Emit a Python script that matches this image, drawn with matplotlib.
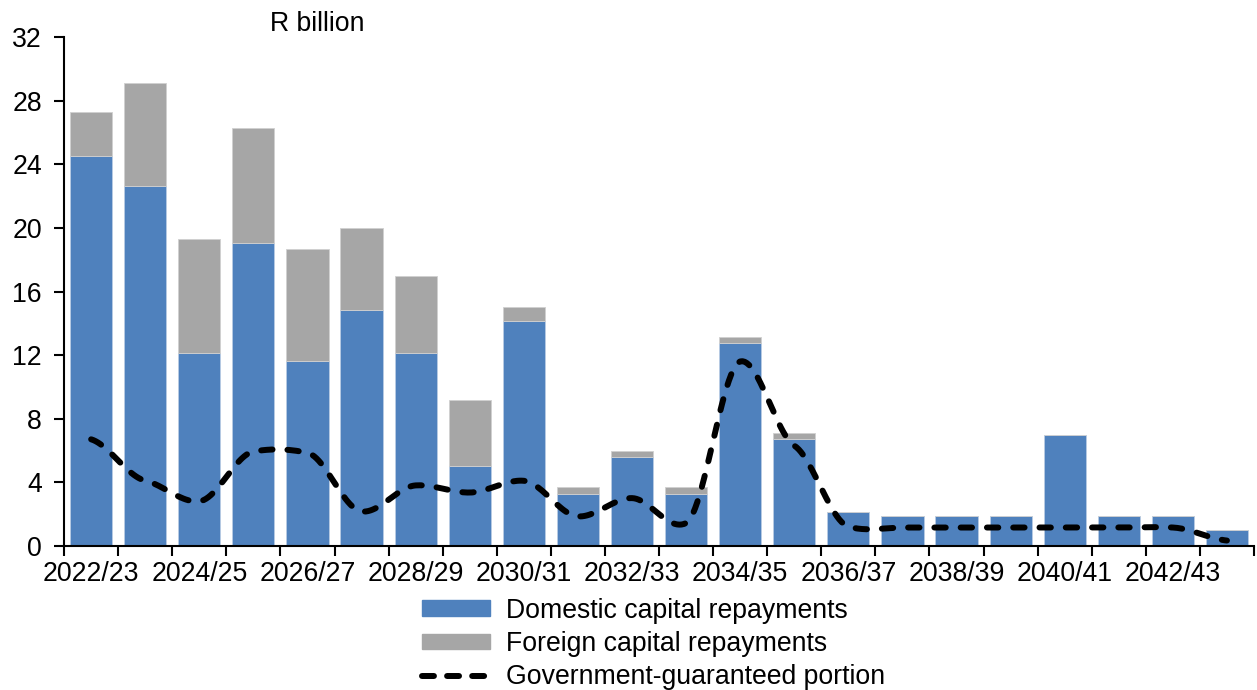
import numpy as np
import matplotlib
matplotlib.use('Agg')
from matplotlib import pyplot as plt
from matplotlib.lines import Line2D
from matplotlib.patches import Patch

# Data (R billion)
years = ['2022/23', '2023/24', '2024/25', '2025/26', '2026/27', '2027/28',
         '2028/29', '2029/30', '2030/31', '2031/32', '2032/33', '2033/34',
         '2034/35', '2035/36', '2036/37', '2037/38', '2038/39', '2039/40',
         '2040/41', '2041/42', '2042/43', '2043/44']
domestic = [24.55, 22.65, 12.14, 19.08, 11.65, 14.85, 12.14, 5.03, 14.15,
            3.27, 5.56, 3.27, 12.78, 6.71, 2.12, 1.89, 1.89, 1.89, 6.96,
            1.89, 1.89, 1.0]
foreign = [2.75, 6.5, 7.16, 7.22, 7.03, 5.13, 4.84, 4.15, 0.88, 0.4, 0.39,
           0.4, 0.37, 0.38, 0, 0, 0, 0, 0, 0, 0, 0]
guaranteed = [6.7, 4.1, 2.8, 5.93, 5.85, 2.16, 3.8, 3.35, 4.09, 1.85, 3.0,
              1.43, 11.6, 6.3, 1.21, 1.15, 1.15, 1.15, 1.15, 1.15, 1.15, 0.33]

blue = '#4F81BD'
grey = '#A6A6A6'

plt.rcParams['font.family'] = ['Liberation Sans', 'DejaVu Sans']
plt.rcParams['font.size'] = 19.2


def smooth(xs, ys, tension=0.4, n=24):
    # cardinal spline through the points (Excel "smoothed line" look)
    m = np.zeros_like(ys)
    m[1:-1] = tension * (ys[2:] - ys[:-2]) / 2
    m[0] = tension * (ys[1] - ys[0])
    m[-1] = tension * (ys[-1] - ys[-2])
    t = np.linspace(0, 1, n, endpoint=False)
    h00 = 2 * t ** 3 - 3 * t ** 2 + 1
    h10 = t ** 3 - 2 * t ** 2 + t
    h01 = -2 * t ** 3 + 3 * t ** 2
    h11 = t ** 3 - t ** 2
    ox, oy = [], []
    for i in range(len(xs) - 1):
        ox.extend(xs[i] + t * (xs[i + 1] - xs[i]))
        oy.extend(h00 * ys[i] + h10 * m[i] + h01 * ys[i + 1] + h11 * m[i + 1])
    ox.append(xs[-1])
    oy.append(ys[-1])
    return np.array(ox), np.array(oy)


fig = plt.figure(figsize=(12.57, 6.9), dpi=100)
ax = fig.add_axes([0.051, 0.209, 0.9466, 0.737])

x = np.arange(len(years))
ax.bar(x, domestic, width=0.78, color=blue, edgecolor='#B8CCE4', linewidth=0.6)
ax.bar(x, foreign, width=0.78, bottom=domestic, color=grey,
       edgecolor='#D0D0D0', linewidth=0.6)

sx, sy = smooth(x.astype(float), np.array(guaranteed, dtype=float))
ax.plot(sx, sy, color='black', lw=4.3, dashes=(1.9, 2.5),
        dash_capstyle='round', solid_capstyle='round')

ax.set_xlim(-0.5, len(years) - 0.5)
ax.set_ylim(0, 32)
ax.set_yticks(np.arange(0, 33, 4))
ax.set_xticks(x[::2])
ax.set_xticklabels(years[::2])
ax.set_xticks(np.arange(-0.5, len(years), 1), minor=True)
ax.tick_params(axis='x', which='major', length=0, pad=11)
ax.tick_params(axis='x', which='minor', length=7, width=1.5, direction='out')
ax.tick_params(axis='y', length=7, width=1.5, direction='out', pad=9)

for s in ['top', 'right']:
    ax.spines[s].set_visible(False)
for s in ['left', 'bottom']:
    ax.spines[s].set_linewidth(1.5)

fig.text(0.215, 0.965, 'R billion', ha='left', va='center')

handles = [Patch(color=blue), Patch(color=grey),
           Line2D([0], [0], color='black', lw=4.3, dashes=(2.0, 2.2),
                  dash_capstyle='round')]
labels = ['Domestic capital repayments', 'Foreign capital repayments',
          'Government-guaranteed portion']
fig.legend(handles, labels, loc='upper center', bbox_to_anchor=(0.52, 0.134),
           frameon=False, handlelength=2.55, handleheight=0.52,
           handletextpad=0.6, labelspacing=0.28, borderpad=0, borderaxespad=0)

plt.savefig('out.png', dpi=100)
